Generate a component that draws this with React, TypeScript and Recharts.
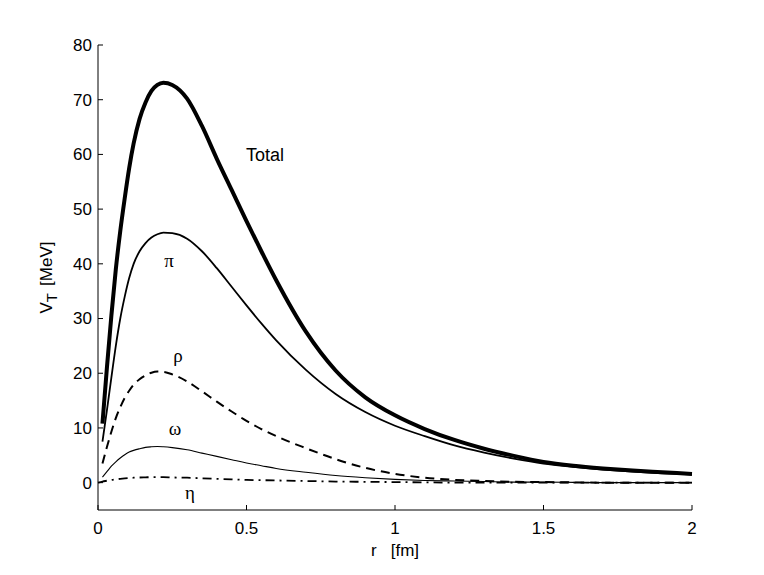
import React from "react"
import { LineChart, Line, XAxis, YAxis, ReferenceDot } from "recharts"

// r grid in fm
const rValues = [
  0, 0.015, 0.03, 0.045, 0.06, 0.075, 0.09, 0.105, 0.12, 0.14, 0.16, 0.18, 0.2, 0.22, 0.25,
  0.3, 0.35, 0.4, 0.45, 0.5, 0.55, 0.6, 0.7, 0.8, 0.9, 1.0, 1.1, 1.2, 1.3, 1.4, 1.5, 1.6,
  1.7, 1.8, 1.9, 2.0,
]

// V_T in MeV
const totalValues = [
  null, 10.8, 21, 30.5, 39, 46, 52, 57.5, 62, 66.5, 69.5, 71.6, 72.7, 73.1, 72.7,
  70.2, 65.2, 59.2, 53.5, 47.8, 42.3, 37.0, 27.6, 20.5, 15.6, 12.3, 9.8, 7.8, 6.2, 4.9, 3.8, 3.1,
  2.6, 2.2, 1.9, 1.6,
]
const piValues = [
  null, 7.5, 13.2, 19.2, 25, 30, 34, 37.4, 40, 42.3, 43.8, 44.8, 45.4, 45.7, 45.6,
  44.6, 42.3, 39.2, 35.8, 32.4, 29.1, 26.0, 20.6, 16.2, 12.9, 10.4, 8.5, 6.8, 5.5, 4.4, 3.5, 2.9,
  2.4, 2.0, 1.7, 1.5,
]
const rhoValues = [
  null, 3.5, 6.5, 9.3, 11.8, 13.8, 15.5, 16.8, 17.9, 18.9, 19.6, 20.1, 20.3, 20.25, 19.8,
  18.5, 16.7, 14.8, 13.0, 11.3, 9.8, 8.5, 6.3, 4.3, 2.7, 1.6, 0.9, 0.5, 0.3, 0.15, 0.1, 0.05,
  0, 0, 0, 0,
]
const omegaValues = [
  null, 1.0, 2.0, 3.0, 3.8, 4.5, 5.1, 5.6, 5.9, 6.2, 6.45, 6.55, 6.6, 6.55, 6.4,
  6.0, 5.4, 4.8, 4.2, 3.6, 3.1, 2.6, 1.9, 1.3, 0.9, 0.6, 0.4, 0.3, 0.2, 0.1, 0.1, 0.05,
  0, 0, 0, 0,
]
const etaValues = [
  0, 0.2, 0.35, 0.5, 0.6, 0.7, 0.78, 0.84, 0.9, 0.94, 0.97, 1.0, 1.0, 1.0, 0.95,
  0.9, 0.8, 0.7, 0.6, 0.5, 0.45, 0.4, 0.3, 0.2, 0.15, 0.1, 0.05, 0, 0, 0, 0, 0,
  0, 0, 0, 0,
]

const xTicks = [0, 0.5, 1, 1.5, 2]
const yTicks = [0, 10, 20, 30, 40, 50, 60, 70, 80]

const annotations = [
  { text: "Total", r: 0.562, v: 59.9, serif: false },
  { text: "π", r: 0.239, v: 40.7, serif: true },
  { text: "ρ", r: 0.269, v: 23.2, serif: true },
  { text: "ω", r: 0.259, v: 10, serif: true },
  { text: "η", r: 0.31, v: -1.8, serif: true },
]

const data = rValues.map((r, i) => ({
  r,
  total: totalValues[i],
  pi: piValues[i],
  rho: rhoValues[i],
  omega: omegaValues[i],
  eta: etaValues[i],
}))

const SANS = "'Liberation Sans', Arial, Helvetica, sans-serif"
const SERIF = "'Liberation Serif', 'Times New Roman', serif"

// inward ticks, matlab style
const YTick = (props: any) => {
  const { x, y, payload } = props
  return (
    <g>
      <line x1={x} x2={x + 5} y1={y} y2={y} stroke="#000" strokeWidth={1} />
      <text x={x - 6} y={y} dy="0.35em" textAnchor="end" fontSize={17} fontFamily={SANS} fill="#000">
        {payload.value}
      </text>
    </g>
  )
}

const XTick = (props: any) => {
  const { x, y, payload } = props
  return (
    <g>
      <line x1={x} x2={x} y1={y} y2={y - 5} stroke="#000" strokeWidth={1} />
      <text x={x} y={y + 12} dy="0.71em" textAnchor="middle" fontSize={17} fontFamily={SANS} fill="#000">
        {payload.value}
      </text>
    </g>
  )
}

const XLabel = (props: any) => {
  const vb = props.viewBox || { x: 90, y: 502, width: 594 }
  return (
    <text
      x={vb.x + vb.width / 2}
      y={vb.y + 46}
      textAnchor="middle"
      fontSize={17}
      fontFamily={SANS}
      fill="#000"
      style={{ whiteSpace: "pre" }}
    >
      {"r   [fm]"}
    </text>
  )
}

const YLabel = (props: any) => {
  const vb = props.viewBox || { x: 0, y: 37, width: 90, height: 465 }
  const cx = 44
  const cy = vb.y + vb.height / 2
  return (
    <text
      x={cx}
      y={cy}
      textAnchor="middle"
      fontSize={17}
      fontFamily={SANS}
      fill="#000"
      transform={`rotate(-90, ${cx}, ${cy})`}
      style={{ whiteSpace: "pre" }}
    >
      <tspan>V</tspan>
      <tspan dy={5} fontSize={15}>T</tspan>
      <tspan dy={-5} dx={7}>[MeV]</tspan>
    </text>
  )
}

export default function App() {
  return (
    <div style={{ width: 756, height: 567, fontFamily: SANS }}>
      <LineChart
        width={756}
        height={567}
        data={data}
        margin={{ top: 37, right: 72, bottom: 35, left: 0 }}
      >
        <XAxis
          dataKey="r"
          type="number"
          domain={[0, 2]}
          ticks={xTicks}
          interval={0}
          height={30}
          tickSize={0}
          tickMargin={0}
          tickLine={false}
          axisLine={{ stroke: "#000" }}
          tick={XTick}
          label={XLabel}
        />
        <YAxis
          type="number"
          domain={[-5, 80]}
          ticks={yTicks}
          interval={0}
          width={90}
          tickSize={0}
          tickMargin={0}
          tickLine={false}
          axisLine={{ stroke: "#000" }}
          tick={YTick}
          label={YLabel}
        />
        <Line
          type="monotone"
          dataKey="eta"
          stroke="#000"
          strokeWidth={1.8}
          strokeDasharray="9 5 2 5"
          dot={false}
          activeDot={false}
          isAnimationActive={false}
        />
        <Line
          type="monotone"
          dataKey="omega"
          stroke="#000"
          strokeWidth={1.1}
          dot={false}
          activeDot={false}
          isAnimationActive={false}
        />
        <Line
          type="monotone"
          dataKey="rho"
          stroke="#000"
          strokeWidth={2}
          strokeDasharray="9 6"
          dot={false}
          activeDot={false}
          isAnimationActive={false}
        />
        <Line
          type="monotone"
          dataKey="pi"
          stroke="#000"
          strokeWidth={1.8}
          dot={false}
          activeDot={false}
          isAnimationActive={false}
        />
        <Line
          type="monotone"
          dataKey="total"
          stroke="#000"
          strokeWidth={4}
          dot={false}
          activeDot={false}
          isAnimationActive={false}
        />
        {annotations.map((a) => (
          <ReferenceDot
            key={a.text}
            x={a.r}
            y={a.v}
            r={0}
            fill="none"
            stroke="none"
            ifOverflow="visible"
            label={{
              value: a.text,
              position: "center",
              fontSize: a.serif ? 19 : 18,
              fontFamily: a.serif ? SERIF : SANS,
              fill: "#000",
            }}
          />
        ))}
      </LineChart>
    </div>
  )
}
